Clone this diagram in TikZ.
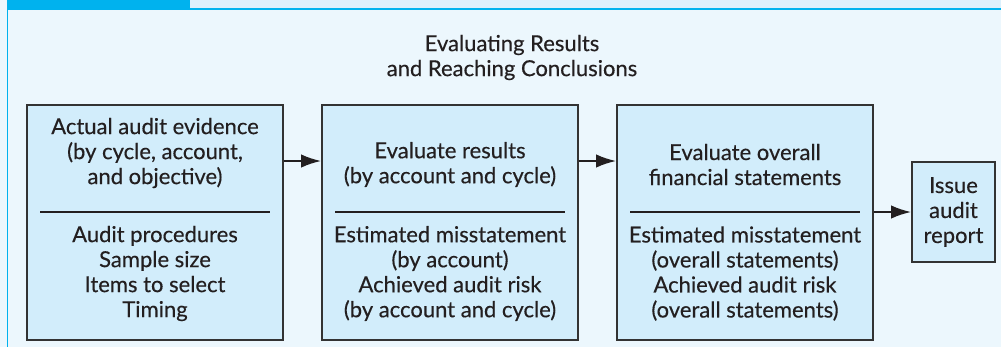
\documentclass[tikz,border=0pt]{standalone}
\usepackage{fontspec}
\setmainfont{Lato}
\newfontfamily\stagefont{Lato}[FakeBold=0.35]
\usepackage{tikz}
\usepackage{xcolor}
\definecolor{framecyan}{RGB}{0,178,238}
\definecolor{panelbg}{RGB}{236,247,253}
\definecolor{stripbg}{RGB}{220,240,252}
\definecolor{boxfill}{RGB}{210,237,251}
\definecolor{boxline}{RGB}{51,51,51}
\definecolor{textgray}{RGB}{35,31,32}
\usetikzlibrary{arrows.meta,positioning,calc}

\begin{document}
\begin{tikzpicture}[x=0.75pt,y=-0.75pt,
    stagebox/.style={draw=boxline,fill=boxfill,line width=1.2pt,minimum width=192pt,minimum height=176.25pt},
    reportbox/.style={draw=boxline,fill=boxfill,line width=1.2pt,minimum width=62.25pt,minimum height=75pt},
    boxtext/.style={align=center,text=textgray,font=\stagefont\fontsize{16.5}{18.75}\selectfont,inner sep=0pt},
    divider/.style={draw=textgray,line width=0.9pt},
    flowarrow/.style={draw=textgray,line width=1.6pt,-{Latex[length=15pt,width=10pt]}}]
                \useasboundingbox (0,0) rectangle (1001,347);
                % panel and frame
                \fill[panelbg] (0,0) rectangle (1001,347);
                \fill[stripbg] (7,0) rectangle (1001,8.5);
                \fill[framecyan] (7,0) rectangle (190,9);
                \draw[framecyan,line width=1.2pt] (7,9) -- (1001,9);
                \draw[framecyan,line width=1.2pt] (7.5,0) -- (7.5,347);
                \node[boxtext] (title) at (512,57.5) {Evaluating Results\\and Reaching Conclusions};
                % the four stages
                \node[stagebox] (evidence) at (155,222.5) {};
                \node[stagebox] (results) at (450,222.5) {};
                \node[stagebox] (overall) at (745,222.5) {};
                \node[reportbox,boxtext] (report) at (953.5,212) {Issue\\audit\\report};
                \node[boxtext] (evidencetop) at (155,153) {Actual audit evidence\\(by cycle, account,\\and objective)};
                \node[boxtext] (evidencebot) at (155,273.5) {Audit procedures\\Sample size\\Items to select\\Timing};
                \node[boxtext] (resultstop) at (450,164.5) {Evaluate results\\(by account and cycle)};
                \node[boxtext] (resultsbot) at (450,273.5) {Estimated misstatement\\(by account)\\Achieved audit risk\\(by account and cycle)};
                \node[boxtext] (overalltop) at (745,164.5) {Evaluate overall\\financial statements};
                \node[boxtext] (overallbot) at (745,273.5) {Estimated misstatement\\(overall statements)\\Achieved audit risk\\(overall statements)};
                \foreach \b in {evidence,results,overall}
                    \draw[divider] ($(\b.west)+(14,-10.5)$) -- ($(\b.east)+(-14,-10.5)$);
                % arrows
                \coordinate (arrowrow) at (0,161);
                \draw[flowarrow] (evidence.east |- arrowrow) -- (results.west |- arrowrow);
                \draw[flowarrow] (results.east |- arrowrow) -- (overall.west |- arrowrow);
                \draw[flowarrow] (overall.east |- report.west) -- (report.west);
            \end{tikzpicture}
\end{document}
